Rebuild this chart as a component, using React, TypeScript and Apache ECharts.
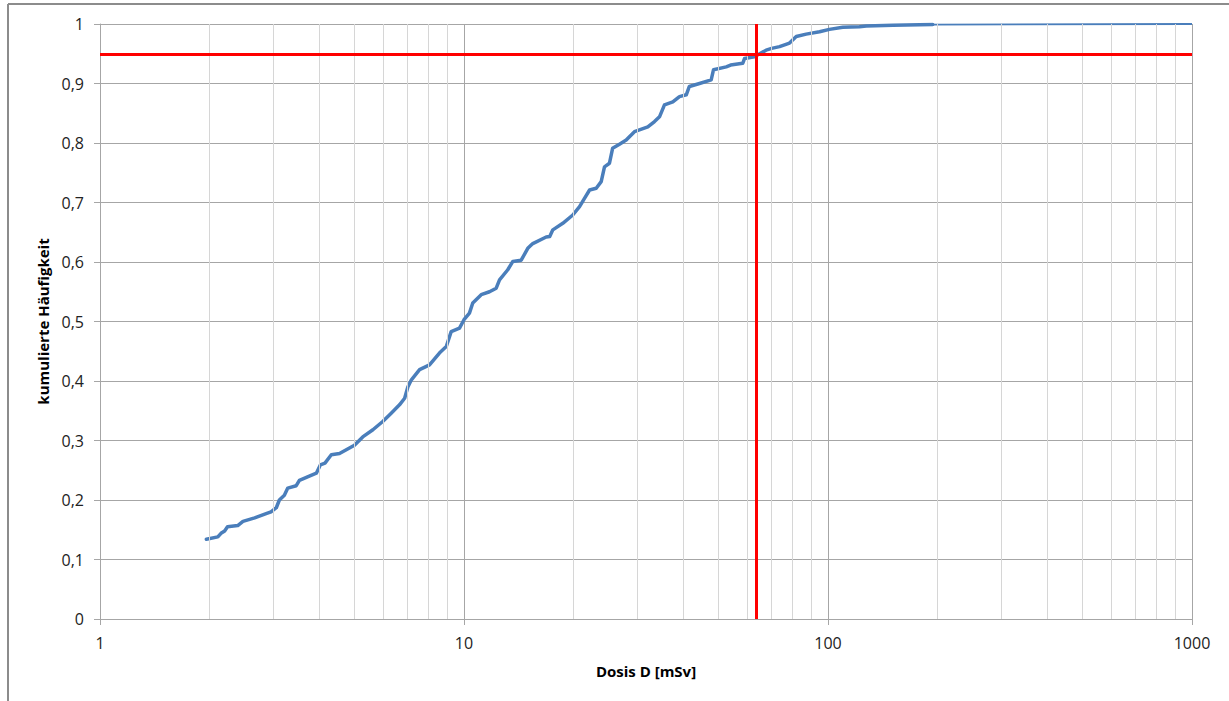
import React, { useEffect, useRef } from "react";
import * as echarts from "echarts";

// Dose values (mSv) and cumulative frequency
const doseValues = [
  1.96, 2.107, 2.15, 2.2, 2.24, 2.39, 2.47, 2.66, 2.86, 2.95, 3.05, 3.11, 3.21, 3.28, 3.46, 3.53, 3.69,
  3.93, 4.03, 4.15, 4.32, 4.55, 5.0, 5.27, 5.62, 5.98, 6.31, 6.65, 6.87, 7.01, 7.17, 7.55, 8.04, 8.56,
  8.94, 9.22, 9.72, 10.0, 10.35, 10.57, 11.15, 11.75, 12.26, 12.52, 13.19, 13.62, 14.36, 14.97, 15.45,
  16.82, 17.2, 17.54, 18.68, 19.9, 20.77, 21.43, 22.13, 23.08, 23.82, 24.32, 25.1, 25.6, 26.74, 27.9,
  29.4, 31.99, 33.37, 34.44, 35.54, 37.47, 39.08, 40.8, 41.6, 44.36, 47.76, 48.46, 52.53, 54.0, 58.3,
  59.0, 62.8, 67.6, 70.0, 73.6, 78.4, 81.8, 87.1, 94.8, 100.9, 109.8, 122, 127.4, 150.7, 194,
];
const cumFreq = [
  0.134, 0.138, 0.144, 0.148, 0.155, 0.157, 0.164, 0.17, 0.177, 0.18, 0.187, 0.2, 0.208, 0.22, 0.224,
  0.233, 0.238, 0.245, 0.259, 0.262, 0.276, 0.278, 0.292, 0.306, 0.318, 0.332, 0.346, 0.36, 0.371, 0.39,
  0.402, 0.419, 0.427, 0.447, 0.458, 0.483, 0.489, 0.503, 0.514, 0.531, 0.545, 0.55, 0.556, 0.57, 0.587,
  0.601, 0.603, 0.623, 0.631, 0.642, 0.643, 0.654, 0.665, 0.679, 0.693, 0.707, 0.721, 0.724, 0.735,
  0.76, 0.766, 0.791, 0.798, 0.805, 0.819, 0.827, 0.836, 0.844, 0.864, 0.869, 0.878, 0.881, 0.895, 0.9,
  0.906, 0.923, 0.928, 0.931, 0.934, 0.942, 0.945, 0.956, 0.959, 0.962, 0.968, 0.979, 0.983, 0.987,
  0.991, 0.9945, 0.9955, 0.9966, 0.998, 0.999,
];
// Thin tail of the curve up to the axis end
const tailDose = [194, 1000];
const tailFreq = [0.999, 1.0];

// Reference lines: 95 % quantile
const quantileLevel = 0.95;
const quantileDose = 63.7;

// Axis settings
const xMin = 1;
const xMax = 1000;
const yMin = 0;
const yMax = 1;
const yStep = 0.1;
const minorMultipliers = [2, 3, 4, 5, 6, 7, 8, 9];
const decades = [1, 10, 100];

const xTitle = "Dosis D [mSv]";
const yTitle = "kumulierte Häufigkeit";

export default function App() {
  const ref = useRef<HTMLDivElement>(null);

  useEffect(() => {
    if (!ref.current) return;
    const chart = echarts.init(ref.current, null, { renderer: "svg" });

    const minorLines: any[] = [];
    decades.forEach((d) => minorMultipliers.forEach((m) => minorLines.push({ xAxis: d * m })));

    const font = "'Open Sans', 'Noto Sans', sans-serif";

    chart.setOption({
      animation: false,
      backgroundColor: "#ffffff",
      grid: { left: 100, top: 24, width: 1092, height: 595, containLabel: false },
      graphic: [
        {
          type: "line",
          shape: { x1: 8, y1: 4, x2: 1229, y2: 4 },
          style: { stroke: "#8c8c8c", lineWidth: 2 },
          z: 0,
        },
        {
          type: "line",
          shape: { x1: 8, y1: 4, x2: 8, y2: 701 },
          style: { stroke: "#8c8c8c", lineWidth: 2 },
          z: 0,
        },
      ],
      xAxis: {
        type: "log",
        logBase: 10,
        min: xMin,
        max: xMax,
        name: xTitle,
        nameLocation: "middle",
        nameGap: 44,
        nameTextStyle: { fontFamily: font, fontWeight: "bold", fontSize: 15, color: "#000" },
        axisLine: { show: true, lineStyle: { color: "#a6a6a6", width: 1 } },
        axisTick: { show: true, inside: false, length: 6, lineStyle: { color: "#a6a6a6" } },
        axisLabel: {
          fontFamily: font,
          fontSize: 16,
          color: "#222",
          margin: 16,
          formatter: (v: number) => String(Math.round(v)),
        },
        splitLine: { show: true, lineStyle: { color: "#a6a6a6", width: 1 } },
      },
      yAxis: {
        type: "value",
        min: yMin,
        max: yMax,
        interval: yStep,
        name: yTitle,
        nameLocation: "middle",
        nameGap: 47,
        nameRotate: 90,
        nameTextStyle: { fontFamily: font, fontWeight: "bold", fontSize: 15, color: "#000" },
        axisLine: { show: true, lineStyle: { color: "#a6a6a6", width: 1 } },
        axisTick: { show: true, inside: false, length: 6, lineStyle: { color: "#a6a6a6" } },
        axisLabel: {
          fontFamily: font,
          fontSize: 16,
          color: "#222",
          margin: 16,
          formatter: (v: number) =>
            Math.abs(v) < 1e-9 ? "0" : Math.abs(v - 1) < 1e-9 ? "1" : v.toFixed(1).replace(".", ","),
        },
        splitLine: { show: true, lineStyle: { color: "#a6a6a6", width: 1 } },
      },
      series: [
        {
          type: "line",
          name: "minor grid",
          data: [],
          silent: true,
          z: 1,
          markLine: {
            silent: true,
            symbol: "none",
            label: { show: false },
            lineStyle: { color: "#d6d6d6", width: 1, type: "solid" },
            data: minorLines,
          },
        },
        {
          type: "line",
          name: "Verteilung",
          data: doseValues.map((x, i) => [x, cumFreq[i]]),
          showSymbol: false,
          symbol: "none",
          z: 3,
          lineStyle: { color: "#4a7ebb", width: 3.5, join: "round", cap: "round" },
        },
        {
          type: "line",
          name: "tail",
          data: tailDose.map((x, i) => [x, tailFreq[i]]),
          showSymbol: false,
          symbol: "none",
          z: 3,
          lineStyle: { color: "#4a7ebb", width: 1.8 },
        },
        {
          type: "line",
          name: "95%",
          data: [],
          z: 4,
          markLine: {
            silent: true,
            symbol: "none",
            label: { show: false },
            lineStyle: { color: "#ff0000", width: 3, type: "solid" },
            data: [{ yAxis: quantileLevel }, { xAxis: quantileDose }],
          },
        },
      ],
    });

    return () => chart.dispose();
  }, []);

  return (
    <div
      ref={ref}
      style={{ position: "fixed", left: 0, top: 0, width: 1229, height: 701, background: "#fff" }}
    />
  );
}
